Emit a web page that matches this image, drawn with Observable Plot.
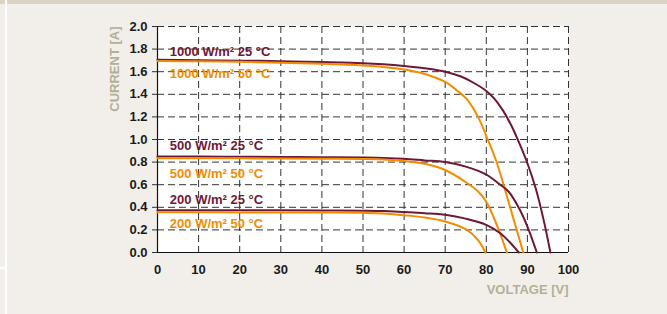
<!DOCTYPE html>
<html>
<head>
<meta charset="utf-8">
<script src="https://cdn.jsdelivr.net/npm/d3@7"></script>
<script src="https://cdn.jsdelivr.net/npm/@observablehq/plot@0.6"></script>
<style>
  html, body { margin: 0; padding: 0; background: #f2efeb; width: 667px; height: 314px; overflow: hidden; }
  #band { position: absolute; left: 0; top: 0; width: 667px; height: 4px; background: #d9d5c1; }
  #vline { position: absolute; left: 5px; top: 0; width: 2px; height: 314px; background: #ffffff; }
  #hline { position: absolute; left: 0; top: 267px; width: 7px; height: 2px; background: #ffffff; }
  #chart { position: absolute; left: 0; top: 0; }
</style>
</head>
<body>
<div id="band"></div>
<div id="vline"></div>
<div id="hline"></div>
<div id="chart"></div>
<script>
// Voltage [V] / current [A] points
const v1000_25 = [0, 10, 20, 30, 40, 50, 55, 60, 65, 70, 74, 77, 80, 82, 84, 86, 88, 90, 92, 94, 95.6];
const i1000_25 = [1.705, 1.702, 1.698, 1.693, 1.685, 1.675, 1.665, 1.65, 1.63, 1.60, 1.555, 1.50, 1.43, 1.36, 1.26, 1.13, 0.97, 0.79, 0.57, 0.28, 0];

const v1000_50 = [0, 10, 20, 30, 40, 50, 55, 60, 65, 70, 73, 75.3, 78, 80, 82.6, 85, 87, 89];
const i1000_50 = [1.695, 1.692, 1.687, 1.68, 1.67, 1.655, 1.642, 1.62, 1.58, 1.51, 1.43, 1.355, 1.2, 1.03, 0.79, 0.5, 0.25, 0];

const v500_25 = [0, 10, 20, 30, 40, 50, 55, 60, 65, 70, 75, 80, 83, 85.4, 88, 90, 92.3];
const i500_25 = [0.85, 0.849, 0.847, 0.845, 0.843, 0.84, 0.837, 0.83, 0.815, 0.80, 0.76, 0.69, 0.61, 0.54, 0.39, 0.23, 0];

const v500_50 = [0, 10, 20, 30, 40, 50, 55, 60, 65, 70, 75.3, 78, 80, 82.6, 85];
const i500_50 = [0.835, 0.834, 0.833, 0.832, 0.83, 0.827, 0.823, 0.81, 0.785, 0.73, 0.615, 0.54, 0.45, 0.24, 0];

const v200_25 = [0, 10, 20, 30, 40, 50, 55, 60, 65, 70, 75, 80, 83.4, 86, 87.9];
const i200_25 = [0.374, 0.374, 0.373, 0.373, 0.372, 0.37, 0.367, 0.358, 0.348, 0.334, 0.30, 0.245, 0.17, 0.08, 0];

const v200_50 = [0, 10, 20, 30, 40, 50, 55, 60, 65, 70, 75.3, 78, 79.8];
const i200_50 = [0.356, 0.356, 0.355, 0.355, 0.354, 0.351, 0.346, 0.33, 0.31, 0.275, 0.2, 0.11, 0];

const seriesNames = ["1000 W/m² 25 °C", "1000 W/m² 50 °C", "500 W/m² 25 °C", "500 W/m² 50 °C", "200 W/m² 25 °C", "200 W/m² 50 °C"];
const seriesV = [v1000_25, v1000_50, v500_25, v500_50, v200_25, v200_50];
const seriesI = [i1000_25, i1000_50, i500_25, i500_50, i200_25, i200_50];
const seriesTemp = [25, 50, 25, 50, 25, 50];
const labelX = [3, 3, 3, 3, 3, 3];
const labelY = [1.78, 1.58, 0.94, 0.70, 0.47, 0.25];

const xTicks = [0, 10, 20, 30, 40, 50, 60, 70, 80, 90, 100];
const yTicks = [0, 0.2, 0.4, 0.6, 0.8, 1.0, 1.2, 1.4, 1.6, 1.8, 2.0];

const MAROON = "#6e1838";
const ORANGE = "#f28c00";
const color = t => t === 25 ? MAROON : ORANGE;

const points = [];
seriesNames.forEach((name, k) => {
  seriesV[k].forEach((v, j) => points.push({series: name, temp: seriesTemp[k], V: v, I: seriesI[k][j]}));
});
const labels = seriesNames.map((name, k) => ({name, temp: seriesTemp[k], x: labelX[k], y: labelY[k]}));

const FONT = "'Liberation Sans', Arial, sans-serif";
const TITLE = "#b3b096";

const chart = Plot.plot({
  width: 667,
  height: 314,
  marginLeft: 157,
  marginRight: 99,
  marginTop: 26,
  marginBottom: 62,
  style: {background: "transparent", fontFamily: FONT},
  x: {domain: [0, 100]},
  y: {domain: [0, 2]},
  marks: [
    Plot.frame({fill: "white", stroke: "none"}),
    Plot.gridX(xTicks.filter(d => d > 0), {stroke: "#333", strokeOpacity: 1, strokeDasharray: "7,4", strokeWidth: 1}),
    Plot.gridY(yTicks.filter(d => d > 0), {stroke: "#333", strokeOpacity: 1, strokeDasharray: "7,4", strokeWidth: 1}),
    Plot.axisY(yTicks, {tickSize: 5, tickPadding: 5, tickFormat: d3.format(".1f"), fontSize: 13, fontWeight: "bold", fill: "#1a1a1a", stroke: "#333", label: null}),
    Plot.axisX(xTicks, {tickSize: 0, tickPadding: 12, fontSize: 13, fontWeight: "bold", fill: "#1a1a1a", label: null}),
    Plot.ruleX([0], {stroke: "#111", strokeWidth: 1.2}),
    Plot.ruleY([0], {stroke: "#111", strokeWidth: 1.2}),
    Plot.line(points, {x: "V", y: "I", z: "series", stroke: d => color(d.temp), strokeWidth: 2, curve: "catmull-rom"}),
    Plot.text(labels, {x: "x", y: "y", text: "name", fill: d => color(d.temp), textAnchor: "start", fontSize: 13, fontWeight: "bold"}),
    Plot.text(["CURRENT [A]"], {frameAnchor: "top-left", dx: -48, rotate: -90, textAnchor: "end", fill: TITLE, fontSize: 13, fontWeight: "bold"}),
    Plot.text(["VOLTAGE [V]"], {frameAnchor: "bottom-right", dy: 41, textAnchor: "end", fill: TITLE, fontSize: 13, fontWeight: "bold"})
  ]
});
document.getElementById("chart").appendChild(chart);
</script>
</body>
</html>
